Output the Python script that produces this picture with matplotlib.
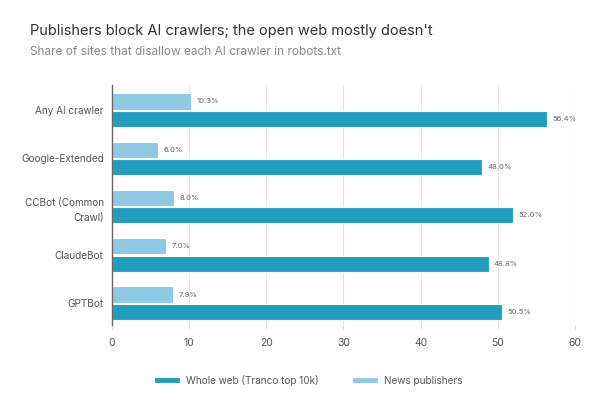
import matplotlib
matplotlib.use("Agg")
import matplotlib.pyplot as plt
import numpy as np

plt.rcParams['font.family'] = ['Inter', 'DejaVu Sans']

crawlers = ["Any AI crawler", "Google-Extended", "CCBot (Common\nCrawl)", "ClaudeBot", "GPTBot"]
whole_web = [56.4, 48.0, 52.0, 48.8, 50.5]
news = [10.3, 6.0, 8.0, 7.0, 7.9]

dark = "#219ebc"
light = "#8ecae6"
grey_txt = "#555555"

fig = plt.figure(figsize=(6.16, 4.01), dpi=100)
ax = fig.add_axes([0.1818, 0.1895, 0.7516, 0.5985])

y = np.arange(len(crawlers))
h = 0.335
off = 0.18
b1 = ax.barh(y + off, whole_web, height=h, color=dark, edgecolor="white", linewidth=0.8,
             label="Whole web (Tranco top 10k)", zorder=3)
b2 = ax.barh(y - off, news, height=h, color=light, edgecolor="white", linewidth=0.8,
             label="News publishers", zorder=3)

for yy, v in zip(y + off, whole_web):
    ax.text(v + 0.7, yy, f"{v:.1f}%", va="center", ha="left", fontsize=5.5, color="#666666")
for yy, v in zip(y - off, news):
    ax.text(v + 0.7, yy, f"{v:.1f}%", va="center", ha="left", fontsize=5.5, color="#666666")

ax.set_xlim(0, 60)
ax.set_ylim(4.45, -0.52)
ax.set_xticks([0, 10, 20, 30, 40, 50, 60])
ax.set_yticks(y)
ax.set_yticklabels(crawlers, multialignment="right", linespacing=1.7)
ax.tick_params(axis="y", length=0, pad=6, labelsize=7.2, labelcolor=grey_txt)
ax.tick_params(axis="x", length=3, color="#dddddd", pad=6, labelsize=7.5, labelcolor=grey_txt)
ax.grid(axis="x", color="#e3e3ea", linewidth=0.8, zorder=0)
for s in ["top", "right", "bottom"]:
    ax.spines[s].set_visible(False)
ax.spines["left"].set_color("#666666")
ax.spines["left"].set_linewidth(1.0)
ax.spines["left"].set_zorder(4)

fig.text(30 / 616, 1 - 31 / 401, "Publishers block AI crawlers; the open web mostly doesn't",
         fontsize=10.5, color="#333333", va="center", ha="left")
fig.text(30 / 616, 1 - 52 / 401, "Share of sites that disallow each AI crawler in robots.txt",
         fontsize=8.5, color="#888888", va="center", ha="left")

fig.legend(handles=[b1, b2], loc="center", bbox_to_anchor=(0.5, 1 - 380 / 401), ncol=2,
           frameon=False, fontsize=7.2, handlelength=2.6, handleheight=0.6, columnspacing=3.3,
           handletextpad=0.6, labelcolor=grey_txt)

fig.savefig("out.png", dpi=100, facecolor="white")
